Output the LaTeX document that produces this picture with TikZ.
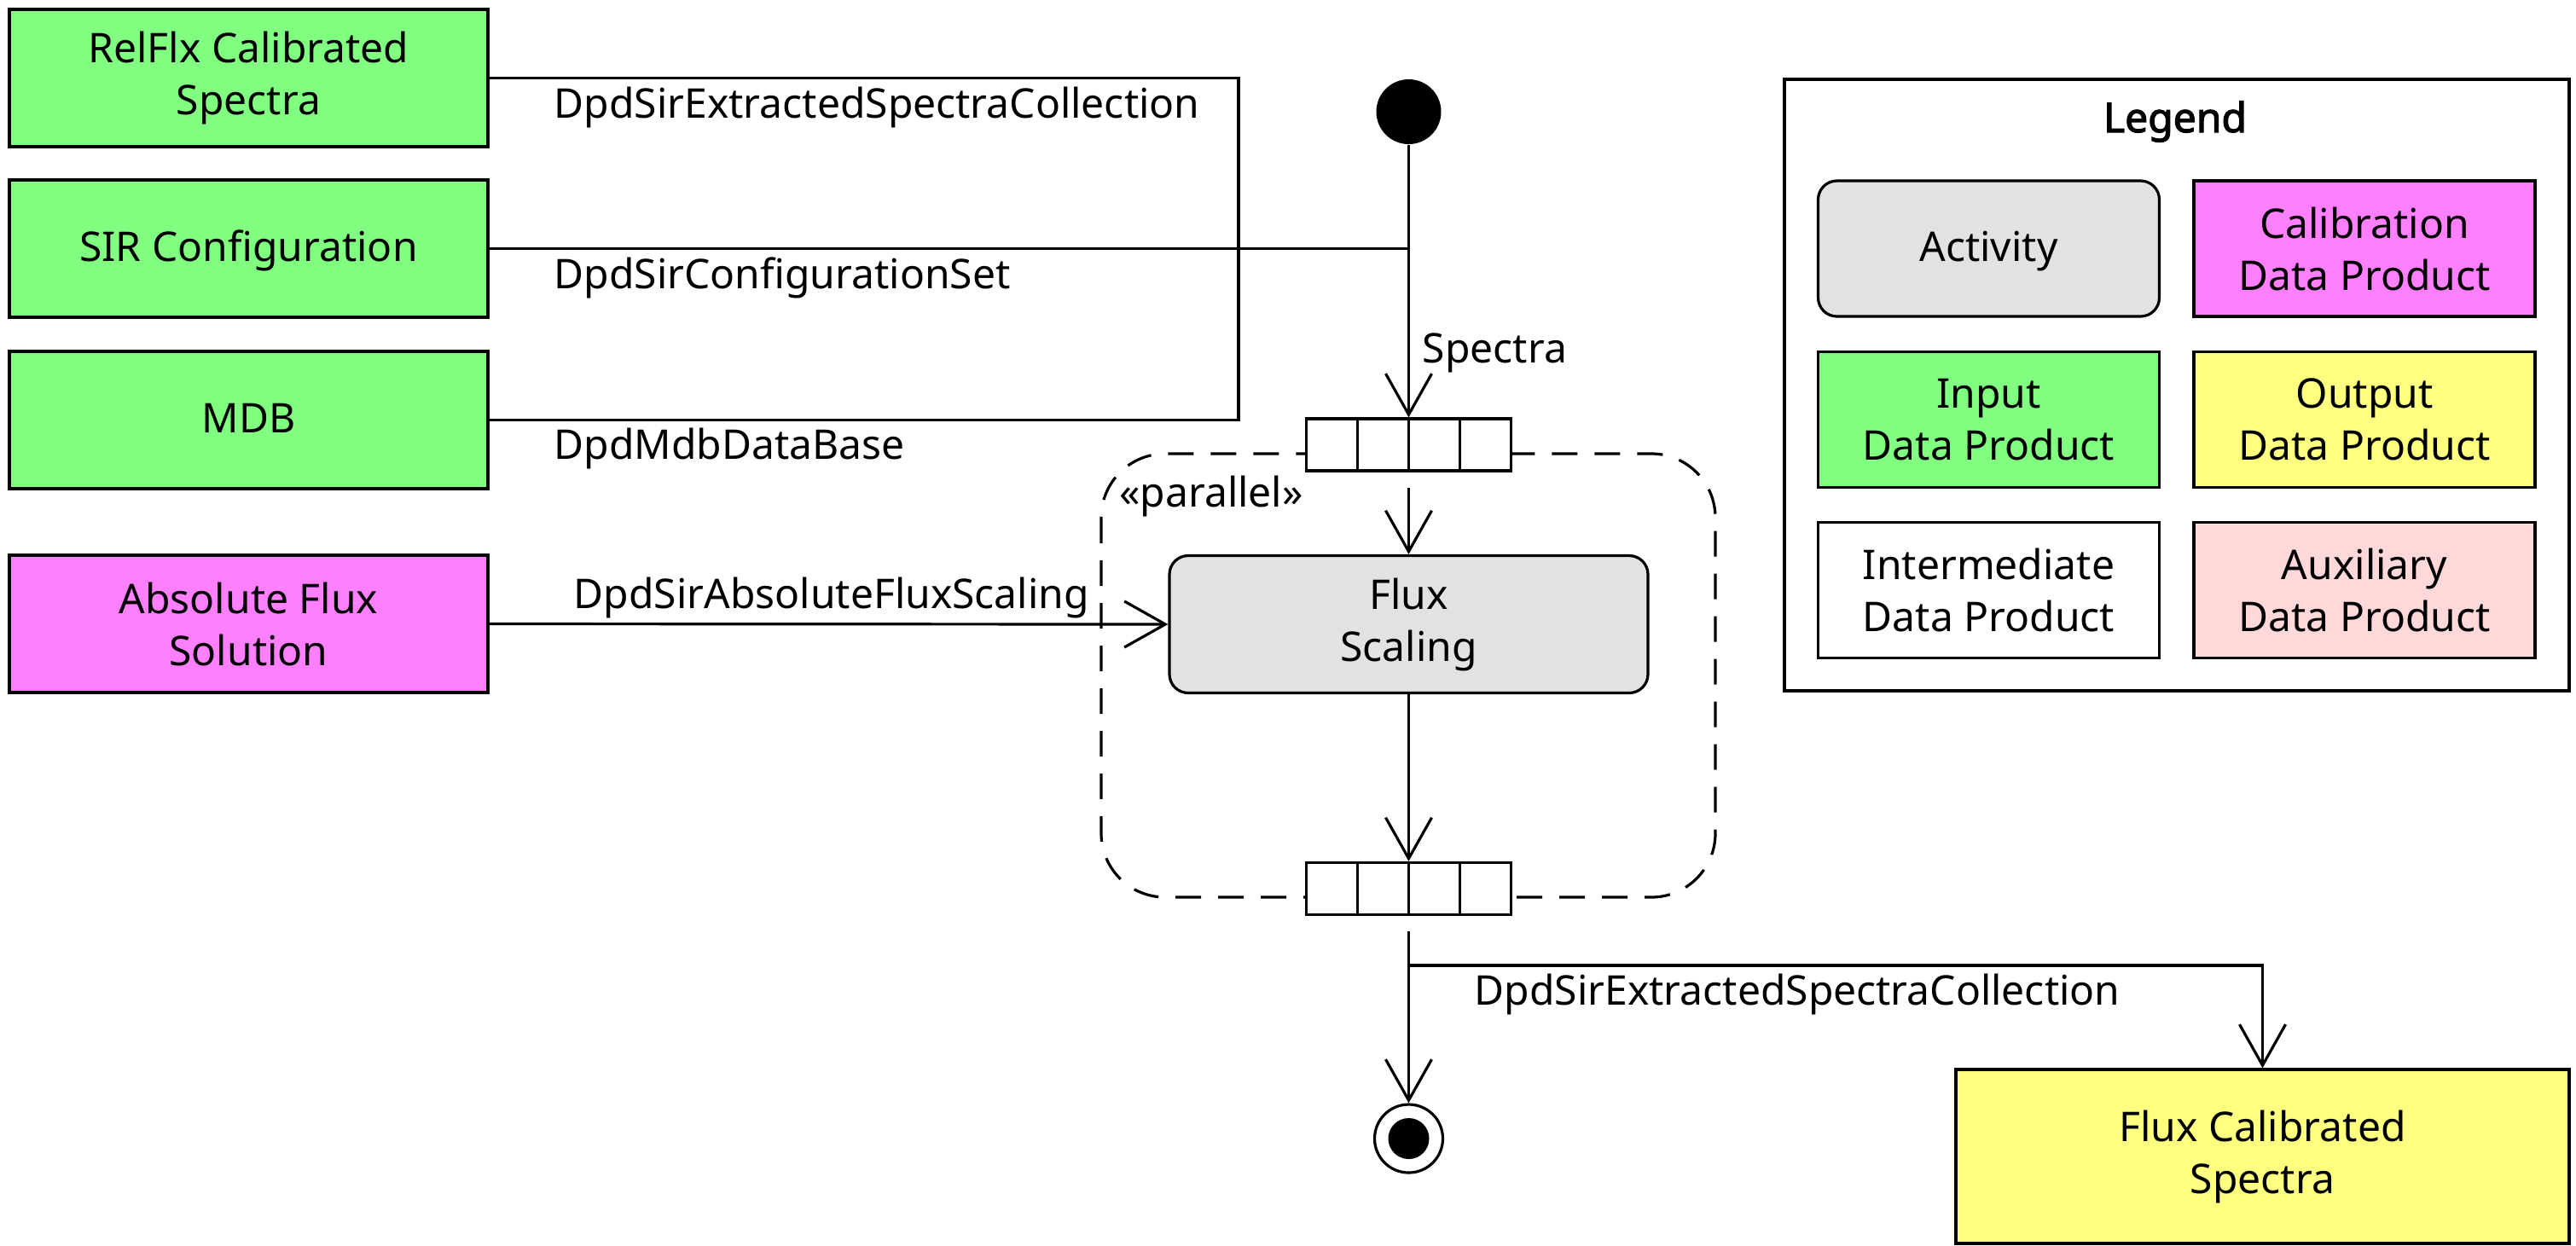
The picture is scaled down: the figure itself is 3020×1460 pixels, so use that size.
\documentclass[tikz,border=0pt]{standalone}
\usepackage{fontspec}
\setmainfont{Noto Sans}
\newfontfamily\legfont{Noto Sans}[FakeBold=2.5]
\usetikzlibrary{arrows.meta}
\definecolor{inp}{HTML}{80FF80}
\definecolor{cal}{HTML}{FF80FF}
\definecolor{outp}{HTML}{FFFF80}
\definecolor{act}{HTML}{E2E2E2}
\definecolor{aux}{HTML}{FFD9D9}
\begin{document}
\begin{tikzpicture}[x=0.25pt,y=-0.25pt,
 every node/.style={font=\fontsize{12pt}{15.25pt}\selectfont},
 dp/.style={draw,line width=0.8pt,minimum width=140.25pt,minimum height=40.25pt,align=center,inner sep=0pt},
 oneline/.style={text height=9.4pt,text depth=2pt},
 actv/.style={dp,fill=act,rounded corners=5.5pt},
 lgcell/.style={dp,minimum width=100pt,minimum height=39.75pt},
 lbl/.style={anchor=base west,inner sep=0pt},
 conn/.style={line width=0.8pt},
 arr/.style={conn,-{Straight Barb[length=12pt,width=13.5pt]}},
 buf/.style={draw,fill=white,line width=0.8pt,minimum width=60pt,minimum height=15.25pt,inner sep=0pt}]
\useasboundingbox (0,0) rectangle (3020,1460);

% region
\draw[line width=0.8pt,dash pattern=on 7.5pt off 5pt,rounded corners=18.75pt] (1291,532) rectangle (2011,1052);
\node[lbl] (par) at (1311.5,594) {«parallel»};

% input boxes
\node[dp,fill=inp] (relflx) at (291.5,91.5) {RelFlx Calibrated\\Spectra};
\node[dp,fill=inp,oneline] (sir) at (291.5,291.5) {SIR Configuration};
\node[dp,fill=inp,oneline] (mdb) at (291.5,492.5) {MDB};
\node[dp,fill=cal] (abs) at (291.5,731.5) {Absolute Flux\\Solution};

% activity
\node[actv] (flux) at (1651.5,732) {Flux\\Scaling};

% start / end
\node[circle,fill=black,minimum size=19pt,inner sep=0pt] (start) at (1651.5,131) {};
\node[circle,draw,line width=0.8pt,minimum size=20pt,inner sep=0pt] (end) at (1651.5,1335) {};
\fill (end.center) circle (6pt);

% buffers
\node[buf] (inbuf) at (1651.5,521.5) {};
\foreach \dx in {-15pt,0pt,15pt}
  \draw[line width=0.8pt] ([xshift=\dx]inbuf.north) -- ([xshift=\dx]inbuf.south);
\node[buf] (outbuf) at (1651.5,1042) {};
\foreach \dx in {-15pt,0pt,15pt}
  \draw[line width=0.8pt] ([xshift=\dx]outbuf.north) -- ([xshift=\dx]outbuf.south);

% output
\node[dp,fill=outp,minimum width=179.75pt,minimum height=51pt] (fluxcal) at (2652.5,1356) {Flux Calibrated\\Spectra};

% junction coordinates
\coordinate (j1) at (1452,91.5);
\coordinate (j2) at (1452,492.5);
\coordinate (j3) at (1651.5,291.5);
\coordinate (afterin) at (1651.5,572);
\coordinate (afterout) at (1651.5,1092);
\coordinate (split) at (1651.5,1132);
\coordinate (corner) at (2652.5,1132);

% connectors
\draw[conn] (relflx.east) -- (j1) -- (j2) -- (mdb.east);
\draw[conn] (sir.east) -- (j3);
\draw[arr] (start) -- (inbuf.north);
\draw[arr] (afterin) -- (flux.north);
\draw[arr] (abs.east) -- (flux.west);
\draw[arr] (flux.south) -- (outbuf.north);
\draw[arr] (afterout) -- (end.north);
\draw[arr] (split) -- (corner) -- (fluxcal.north);

% labels
\node[lbl] (l1) at (649,138.3) {DpdSirExtractedSpectraCollection};
\node[lbl] (l2) at (649,338.3) {DpdSirConfigurationSet};
\node[lbl] (l3) at (649,538.3) {DpdMdbDataBase};
\node[lbl] (l4) at (1667,425) {Spectra};
\node[lbl] (l5) at (672,713.3) {DpdSirAbsoluteFluxScaling};
\node[lbl] (l6) at (1728,1178) {DpdSirExtractedSpectraCollection};

% legend
\node[draw,line width=1.2pt,minimum width=230pt,minimum height=179.25pt,inner sep=0pt] (legbox) at (2552,451.5) {};
\node[anchor=base,inner sep=0pt,font=\fontsize{12pt}{15.25pt}\legfont] (legtitle) at (2550,155) {Legend};
\node[actv,lgcell,oneline] (lg1) at (2331.5,291.5) {Activity};
\node[lgcell,fill=cal] (lg2) at (2772,291.5) {Calibration\\Data Product};
\node[lgcell,fill=inp] (lg3) at (2331.5,492) {Input\\Data Product};
\node[lgcell,fill=outp] (lg4) at (2772,492) {Output\\Data Product};
\node[lgcell,fill=white] (lg5) at (2331.5,692) {Intermediate\\Data Product};
\node[lgcell,fill=aux] (lg6) at (2772,692) {Auxiliary\\Data Product};
\end{tikzpicture}
\end{document}
